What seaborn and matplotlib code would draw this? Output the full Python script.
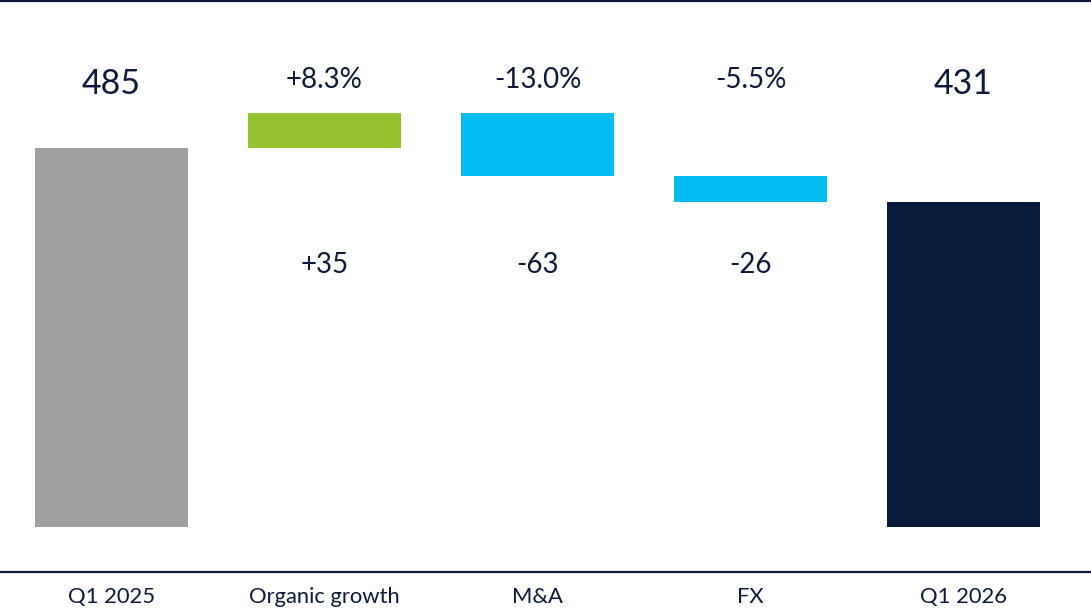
import numpy as np
import pandas as pd
import matplotlib
matplotlib.use("Agg")
import matplotlib.pyplot as plt
import matplotlib.transforms as mtransforms
import seaborn as sns

# data
categories = ["Q1 2025", "Organic growth", "M&A", "FX", "Q1 2026"]
values = [485, 35, -63, -26, 431]
is_total = [True, False, False, False, True]
top_labels = ["485", "+8.3%", "-13.0%", "-5.5%", "431"]
delta_labels = ["", "+35", "-63", "-26", ""]
bar_colors = ["#A0A0A0", "#97C22F", "#04BBF2", "#04BBF2", "#071A3A"]
axis_floor = 106  # truncated value axis

TEXT = "#0B1A3A"

# waterfall bottoms / tops
bottoms, tops = [], []
running = 0
for v, tot in zip(values, is_total):
    if tot:
        running = v
        bottoms.append(axis_floor)
        tops.append(v)
    else:
        lo, hi = sorted([running, running + v])
        bottoms.append(lo)
        tops.append(hi)
        running += v

df = pd.DataFrame({"category": categories, "height": np.array(tops) - np.array(bottoms)})

sns.set_theme(style="white")
plt.rcParams["font.family"] = ["Lato", "DejaVu Sans"]

fig = plt.figure(figsize=(10.91, 6.10), dpi=100)
ax = fig.add_axes([0, 38 / 610, 1, 571 / 610])

sns.barplot(data=df, x="category", y="height", hue="category", palette=bar_colors,
            width=0.72, legend=False, ax=ax, saturation=1)

# shift bars so they float at their waterfall positions
for patch, b, t in zip(ax.patches, bottoms, tops):
    patch.set_y(b)
    patch.set_height(t - b)
    patch.set_linewidth(0)

ax.set_xlim(-0.5235, 4.599)
ax.set_ylim(61, 632)

trans = mtransforms.blended_transform_factory(ax.transData, ax.transAxes)
for i, (tl, dl, tot) in enumerate(zip(top_labels, delta_labels, is_total)):
    if tot:
        ax.text(i, 0.855, tl, transform=trans, ha="center", va="center",
                fontsize=24.5, color=TEXT)
    else:
        ax.text(i, 0.862, tl, transform=trans, ha="center", va="center",
                fontsize=20, color=TEXT)
        ax.text(i, 0.538, dl, transform=trans, ha="center", va="center",
                fontsize=20, color=TEXT)

ax.set_xlabel("")
ax.set_ylabel("")
ax.set_yticks([])
ax.tick_params(axis="x", length=0, pad=11, labelsize=15.8, labelcolor=TEXT)
for s in ["left", "right"]:
    ax.spines[s].set_visible(False)
for s in ["top", "bottom"]:
    ax.spines[s].set_color("#0B1A3A")
    ax.spines[s].set_linewidth(1.6)

fig.savefig("out.png", dpi=100)
